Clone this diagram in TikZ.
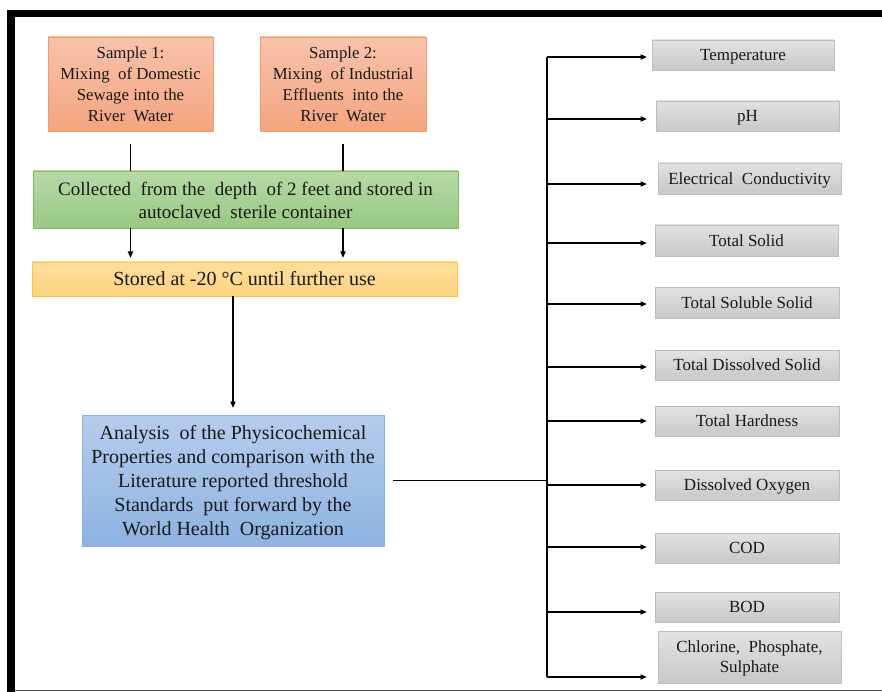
\documentclass[tikz,border=0pt]{standalone}
\usepackage{fontspec}
\setmainfont{Liberation Serif}
\usetikzlibrary{arrows.meta,calc}
\newcommand\tstrut[1]{\rule{0pt}{#1}}
\definecolor{orTop}{HTML}{F8C3AB}
\definecolor{orBot}{HTML}{F4A47F}
\definecolor{orLine}{HTML}{F39C6B}
\definecolor{grTop}{HTML}{B7D9A8}
\definecolor{grBot}{HTML}{98C982}
\definecolor{grLine}{HTML}{7DBB5C}
\definecolor{yeTop}{HTML}{FFDFA0}
\definecolor{yeBot}{HTML}{FFD27C}
\definecolor{yeLine}{HTML}{FFC62E}
\definecolor{blTop}{HTML}{B5CDEC}
\definecolor{blBot}{HTML}{8DB3E2}
\definecolor{blLine}{HTML}{8AB2E0}
\definecolor{gyTop}{HTML}{E2E2E2}
\definecolor{gyBot}{HTML}{C8C8C8}
\definecolor{gyLine}{HTML}{BEBEBE}
\begin{document}
\begin{tikzpicture}[x=1pt,y=-1pt,
  box/.style={inner sep=0pt, outer sep=0pt, align=center, line width=0.9pt, text=black!90},
  orbox/.style={box, top color=orTop, bottom color=orBot, draw=orLine, font=\fontsize{16.8}{21}\selectfont},
  grbox/.style={box, top color=grTop, bottom color=grBot, draw=grLine, font=\fontsize{19}{23}\selectfont},
  yebox/.style={box, text height=17.8pt, text depth=4.4pt, top color=yeTop, bottom color=yeBot, draw=yeLine, font=\fontsize{20}{22}\selectfont},
  blbox/.style={box, top color=blTop, bottom color=blBot, draw=blLine, font=\fontsize{20}{24}\selectfont},
  param/.style={box, top color=gyTop, bottom color=gyBot, draw=gyLine, font=\fontsize{17}{20}\selectfont},
  oneline/.style={text height=15.1pt, text depth=3.7pt},
  conn/.style={line width=1.6pt, black},
  arr/.style={conn, -{Triangle[length=6.5pt,width=5pt]}}
]
\useasboundingbox (0,0) rectangle (882,692);
\fill[white] (0,0) rectangle (882,692);
% frame
\draw[black, line width=7pt] (7,13.5) -- (882,13.5);
\draw[black, line width=8pt] (11,10) -- (11,692);
\draw[black!70, line width=1.2pt] (15,690.5) -- (882,690.5);

% left column
\node[orbox, minimum width=165pt, minimum height=94pt] (s1) at (130.5,84)
  {Sample 1:\\Mixing\ \ of Domestic\\Sewage into the\\River\ \ Water};
\node[orbox, minimum width=166pt, minimum height=94pt] (s2) at (343,84)
  {Sample 2:\\Mixing\ \ of Industrial\\Effluents\ \ into the\\River\ \ Water};
\node[grbox, minimum width=425pt, minimum height=57pt] (green) at (245.5,199.5)
  {\tstrut{16pt}Collected\ \ from the\ \ depth\ \ of 2 feet and stored in\\autoclaved\ \ sterile container};
\node[yebox, minimum width=425pt, minimum height=34pt] (yellow) at (244.5,279)
  {Stored at -20 °C until further use};
\node[blbox, minimum width=302pt, minimum height=131pt] (blue) at (233,480.5)
  {\tstrut{18pt}Analysis\ \ of the Physicochemical\\Properties and comparison with the\\Literature reported threshold\\Standards\ \ put forward by the\\World Health\ \ Organization};

\draw[conn, shorten <=13pt] (s1.south) -- (s1.south |- green.north);
\draw[conn, shorten <=13pt] (s2.south) -- (s2.south |- green.north);
\draw[arr, shorten >=4pt] (s1.south |- green.south) -- (s1.south |- yellow.north);
\draw[arr, shorten >=4pt] (s2.south |- green.south) -- (s2.south |- yellow.north);
\draw[arr, shorten >=7pt] (blue.north |- yellow.south) -- (blue.north);

% parameters
\node[param, oneline, minimum width=182pt, minimum height=30pt] (p1) at (743,55) {Temperature};
\node[param, oneline, minimum width=183pt, minimum height=30pt] (p2) at (747.5,116) {pH};
\node[param, oneline, minimum width=183pt, minimum height=31pt] (p3) at (749.5,178.5) {Electrical\ \ Conductivity};
\node[param, oneline, minimum width=183pt, minimum height=31pt] (p4) at (746.5,240.5) {Total Solid};
\node[param, oneline, minimum width=184pt, minimum height=31pt] (p5) at (747,302.5) {Total Soluble Solid};
\node[param, oneline, minimum width=184pt, minimum height=30pt] (p6) at (747,365) {Total Dissolved Solid};
\node[param, oneline, minimum width=184pt, minimum height=30pt] (p7) at (747,421) {Total Hardness};
\node[param, oneline, minimum width=184pt, minimum height=30pt] (p8) at (747,485) {Dissolved Oxygen};
\node[param, oneline, minimum width=184pt, minimum height=30pt] (p9) at (747,548) {COD};
\node[param, oneline, minimum width=184pt, minimum height=30pt] (p10) at (747,607) {BOD};
\node[param, minimum width=183pt, minimum height=52pt] (p11) at (749.5,657) {\tstrut{15.6pt}Chlorine,\ \ Phosphate,\\Sulphate};

% bus
\coordinate (bustop) at (547,57);
\coordinate (busbot) at (547,677);
\draw[conn] (bustop) -- (busbot);
\draw[conn] ([xshift=9pt]blue.east) -- (blue.east -| bustop);

\coordinate (a1) at ([yshift=-2pt]p1.west);
\coordinate (a2) at ([yshift=-3pt]p2.west);
\coordinate (a3) at ([yshift=-5.5pt]p3.west);
\coordinate (a4) at ([yshift=-2.5pt]p4.west);
\coordinate (a5) at ([yshift=-1.5pt]p5.west);
\coordinate (a6) at ([yshift=-2pt]p6.west);
\coordinate (a7) at (p7.west);
\coordinate (a8) at (p8.west);
\coordinate (a9) at ([yshift=1pt]p9.west);
\coordinate (a10) at ([yshift=-5pt]p10.west);
\coordinate (a11) at ([yshift=-20pt]p11.west);

\draw[arr, shorten >=5pt] (a1 -| bustop) -- (a1);
\draw[arr, shorten >=9pt] (a2 -| bustop) -- (a2);
\draw[arr, shorten >=11pt] (a3 -| bustop) -- (a3);
\draw[arr, shorten >=8pt] (a4 -| bustop) -- (a4);
\draw[arr, shorten >=8pt] (a5 -| bustop) -- (a5);
\draw[arr, shorten >=8pt] (a6 -| bustop) -- (a6);
\draw[arr, shorten >=8pt] (a7 -| bustop) -- (a7);
\draw[arr, shorten >=8pt] (a8 -| bustop) -- (a8);
\draw[arr, shorten >=8pt] (a9 -| bustop) -- (a9);
\draw[arr, shorten >=8pt] (a10 -| bustop) -- (a10);
\draw[arr, shorten >=11pt] (a11 -| bustop) -- (a11);
\end{tikzpicture}
\end{document}
